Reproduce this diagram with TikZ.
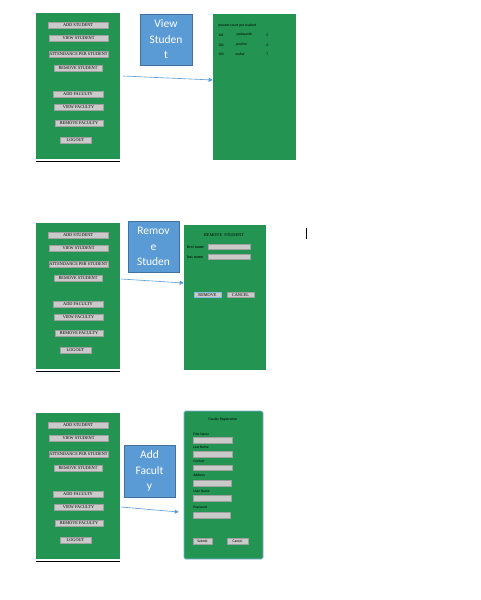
\documentclass[tikz,border=0pt]{standalone}
\usepackage{fontspec}
\setmainfont{Liberation Serif}
\newfontfamily\calibri{Carlito}
\usepackage{tikz}
\usetikzlibrary{arrows.meta, positioning}

\definecolor{wingreen}{RGB}{36,148,82}
\definecolor{btngray}{RGB}{202,202,202}
\definecolor{btnline}{RGB}{160,160,160}
\definecolor{tagblue}{RGB}{91,155,213}
\definecolor{tagline}{RGB}{65,113,156}

\begin{document}
\begin{tikzpicture}[
            x=1pt, y=-1pt,
            >={Triangle[length=4pt,width=4pt]},
            semithick
        ]
        \tikzstyle{screen}=[fill=wingreen, draw=none, inner sep=0pt, minimum width=84pt, minimum height=146pt]
        \tikzstyle{menubtn}=[fill=btngray, draw=btnline, line width=0.4pt, inner sep=0pt, minimum height=6pt, font=\fontsize{4.3}{5}\selectfont]
        \tikzstyle{tag}=[fill=tagblue, draw=tagline, line width=0.8pt, text=white, align=center, inner sep=0pt, minimum width=51pt, minimum height=51pt, font=\calibri\fontsize{11.5}{15.5}\selectfont]
        \tikzstyle{field}=[fill=btngray, draw=btnline, line width=0.3pt, inner sep=0pt, minimum width=42pt, minimum height=5pt]
        \tikzstyle{tiny}=[inner sep=0pt, anchor=west, font=\calibri\fontsize{3.6}{4}\selectfont]
        \tikzstyle{link}=[->, draw=tagblue, line width=0.6pt]

        \useasboundingbox (0,0) rectangle (480,600);

        % menu, view student
        \node[screen] (M1) at (78,86) {};
        \draw[line width=0.8pt] ([yshift=-2pt]M1.south west) -- ([yshift=-2pt]M1.south east);
        \node[menubtn, minimum width=60pt] (B1) at (78,25) {ADD STUDENT};
        \node[menubtn, minimum width=59pt] (B2) at (78.5,38.5) {VIEW STUDENT};
        \node[menubtn, minimum width=59pt] (B3) at (78.5,54.5) {ATTENDANCE PER STUDENT};
        \node[menubtn, minimum width=48pt] (B4) at (78,68) {REMOVE STUDENT};
        \node[menubtn, minimum width=50pt] (B5) at (78,94) {ADD FACULTY};
        \node[menubtn, minimum width=49pt] (B6) at (78.5,107.5) {VIEW FACULTY};
        \node[menubtn, minimum width=48pt] (B7) at (79,123.5) {REMOVE FACULTY};
        \node[menubtn, minimum width=31pt] (B8) at (75.5,140) {LOGOUT};

        \node[tag, minimum width=52pt] (L1) at (166,39.5) {View\\Studen\\t};

        \node[screen, minimum width=83pt] (V) at (254.5,87) {};
        \node[tiny] (V0) at (218,26) {present count per student};
        \node[tiny] (V1) at (218,35) {101};
        \node[tiny] (V2) at (236,35) {yashwanth};
        \node[tiny] (V3) at (266,35) {5};
        \node[tiny] (V4) at (218,45) {102};
        \node[tiny] (V5) at (236,45) {pruthvi};
        \node[tiny] (V6) at (266,45) {6};
        \node[tiny] (V7) at (218,54) {103};
        \node[tiny] (V8) at (235,54) {mahal};
        \node[tiny] (V9) at (266,54) {7};

        \coordinate (a1) at (123,76);
        \draw[link] (a1) -- ([yshift=7pt]V.west);

        % menu, remove student
        \node[screen] (M2) at (78,296) {};
        \draw[line width=0.8pt] ([yshift=-2pt]M2.south west) -- ([yshift=-2pt]M2.south east);
        \node[menubtn, minimum width=60pt] (B9) at (78,235) {ADD STUDENT};
        \node[menubtn, minimum width=59pt] (B10) at (78.5,248.5) {VIEW STUDENT};
        \node[menubtn, minimum width=59pt] (B11) at (78.5,264.5) {ATTENDANCE PER STUDENT};
        \node[menubtn, minimum width=48pt] (B12) at (78,278) {REMOVE STUDENT};
        \node[menubtn, minimum width=50pt] (B13) at (78,304) {ADD FACULTY};
        \node[menubtn, minimum width=49pt] (B14) at (78.5,317.5) {VIEW FACULTY};
        \node[menubtn, minimum width=48pt] (B15) at (79,333.5) {REMOVE FACULTY};
        \node[menubtn, minimum width=31pt] (B16) at (75.5,350) {LOGOUT};

        \node[tag] (L2) at (153.5,246.5) {Remov\\e\\Studen};

        \node[screen, minimum width=82pt, minimum height=145pt] (R) at (225,297.5) {};
        \node[inner sep=0pt, font=\fontsize{4.3}{5}\selectfont] (R0) at (224,235) {REMOVE\ \ STUDENT};
        \node[inner sep=0pt, anchor=west, font=\fontsize{4.3}{5}\selectfont] (R1) at (186.5,247) {first name};
        \node[field] (R2) at (229,247) {};
        \node[inner sep=0pt, anchor=west, font=\fontsize{4.3}{5}\selectfont] (R3) at (186.5,257) {last name};
        \node[field] (R4) at (229,256.5) {};
        \node[menubtn, draw=tagblue!70, minimum width=27pt, minimum height=5pt] (R5) at (207.5,295) {REMOVE};
        \node[menubtn, minimum width=27pt, minimum height=5pt] (R6) at (240.5,295) {CANCEL};

        \coordinate (a2) at (121,279);
        \draw[link] (a2) -- ([yshift=14.5pt]R.west);

        \draw[line width=0.8pt] (306,228) -- (306,239);

        % menu, add faculty
        \node[screen] (M3) at (78,486) {};
        \draw[line width=0.8pt] ([yshift=-2pt]M3.south west) -- ([yshift=-2pt]M3.south east);
        \node[menubtn, minimum width=60pt] (B17) at (78,425) {ADD STUDENT};
        \node[menubtn, minimum width=59pt] (B18) at (78.5,438.5) {VIEW STUDENT};
        \node[menubtn, minimum width=59pt] (B19) at (78.5,454.5) {ATTENDANCE PER STUDENT};
        \node[menubtn, minimum width=48pt] (B20) at (78,468) {REMOVE STUDENT};
        \node[menubtn, minimum width=50pt] (B21) at (78,494) {ADD FACULTY};
        \node[menubtn, minimum width=49pt] (B22) at (78.5,507.5) {VIEW FACULTY};
        \node[menubtn, minimum width=48pt] (B23) at (79,523.5) {REMOVE FACULTY};
        \node[menubtn, minimum width=31pt] (B24) at (75.5,540) {LOGOUT};

        \node[tag, minimum height=52pt] (L3) at (149.5,471) {Add\\Facult\\y};

        \node[screen, draw=tagblue!80, line width=0.6pt, rounded corners=1.5pt, minimum width=79pt, minimum height=148pt] (F) at (223.5,485) {};
        \node[tiny, anchor=center] (F0) at (223,420) {Faculty Registration};
        \node[tiny] (F1) at (193,434) {First Name};
        \node[field, minimum width=39pt, minimum height=6pt] (F2) at (212.5,440) {};
        \node[tiny] (F3) at (193,447) {Last Name};
        \node[field, minimum width=39pt, minimum height=6pt] (F4) at (212.5,454) {};
        \node[tiny] (F5) at (193,461) {Contact};
        \node[field, minimum width=39pt, minimum height=5.5pt] (F6) at (212.5,467.5) {};
        \node[tiny] (F7) at (193,475) {Address};
        \node[field, minimum width=38pt, minimum height=6pt] (F8) at (212,483) {};
        \node[tiny] (F9) at (193,491) {User Name};
        \node[field, minimum width=38pt, minimum height=6pt] (F10) at (212,498) {};
        \node[tiny] (F11) at (193,507) {Password};
        \node[field, minimum width=37pt, minimum height=6pt] (F12) at (211.5,515) {};
        \node[field, minimum width=19pt, minimum height=6pt, font=\calibri\fontsize{3.6}{4}\selectfont] (F13) at (202.5,541) {Submit};
        \node[field, minimum width=21pt, minimum height=6pt, font=\calibri\fontsize{3.6}{4}\selectfont] (F14) at (237.5,541) {Cancel};

        \coordinate (a3) at (121,507);
        \draw[link] (a3) -- ([xshift=-5pt,yshift=-27pt]F.west);
    \end{tikzpicture}
\end{document}
